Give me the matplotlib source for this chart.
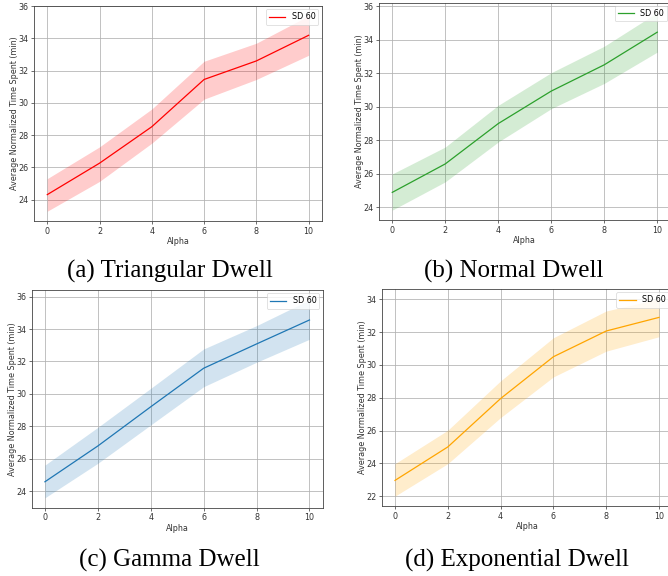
import matplotlib
matplotlib.use("Agg")
import matplotlib.pyplot as plt

alpha_vals = [0, 2, 4, 6, 8, 10]

tri_mean = [24.31, 26.26, 28.52, 31.45, 32.60, 34.19]
tri_low = [23.28, 25.13, 27.50, 30.23, 31.45, 32.95]
tri_high = [25.30, 27.27, 29.62, 32.58, 33.70, 35.40]

norm_mean = [24.88, 26.58, 28.99, 30.93, 32.50, 34.45]
norm_low = [23.82, 25.51, 27.89, 29.88, 31.39, 33.26]
norm_high = [25.98, 27.59, 30.08, 32.03, 33.61, 35.62]

gamma_mean = [24.57, 26.78, 29.20, 31.58, 33.08, 34.56]
gamma_low = [23.58, 25.71, 28.08, 30.44, 31.95, 33.37]
gamma_high = [25.60, 27.93, 30.34, 32.77, 34.21, 35.80]

exp_mean = [22.96, 25.00, 27.95, 30.50, 32.07, 32.90]
exp_low = [22.00, 23.98, 26.79, 29.27, 30.84, 31.72]
exp_high = [23.98, 26.02, 29.03, 31.66, 33.29, 34.03]

legend_label = "SD 60"
captions = ["(a) Triangular Dwell", "(b) Normal Dwell", "(c) Gamma Dwell", "(d) Exponential Dwell"]
colors = ["red", "tab:green", "tab:blue", "orange"]

W, H = 668, 576
fig = plt.figure(figsize=(W / 100, H / 100), dpi=100)

# axes boxes in pixels: left, top, right, bottom
boxes = [
    (34.2, 6.0, 321.7, 221.0),
    (379.0, 2.7, 670.5, 220.0),
    (31.7, 290.0, 322.7, 507.7),
    (381.8, 289.0, 672.2, 506.0),
]
cap_pos = [(170, 271), (514, 271), (169, 560), (517, 560)]

series = [
    (tri_mean, tri_low, tri_high),
    (norm_mean, norm_low, norm_high),
    (gamma_mean, gamma_low, gamma_high),
    (exp_mean, exp_low, exp_high),
]

fs = 5.8
for (l, t, r, b), (m, lo, hi), c, cap, (cx, cy) in zip(boxes, series, colors, captions, cap_pos):
    ax = fig.add_axes([l / W, 1 - b / H, (r - l) / W, (b - t) / H])
    ax.plot(alpha_vals, m, color=c, lw=0.9, label=legend_label)
    ax.fill_between(alpha_vals, lo, hi, color=c, alpha=0.2, lw=0)
    ax.grid(True, color="#b0b0b0", lw=0.55)
    ax.set_axisbelow(True)
    ax.set_xticks(alpha_vals)
    ax.tick_params(labelsize=fs, length=2, width=0.5, pad=2, colors="#333333")
    for s in ax.spines.values():
        s.set_linewidth(0.6)
        s.set_color("#444444")
    ax.set_xlabel("Alpha", fontsize=fs, labelpad=1.2, color="#333333")
    ax.set_ylabel("Average Normalized Time Spent (min)", fontsize=fs, labelpad=-0.5, color="#333333")
    leg = ax.legend(loc="upper right", fontsize=fs, framealpha=0.8, borderaxespad=0.4)
    leg.get_frame().set_linewidth(0.5)
    fig.text(cx / W, 1 - cy / H, cap, ha="center", va="center",
             fontsize=18, family="Liberation Serif")

fig.savefig("out.png", dpi=100)
